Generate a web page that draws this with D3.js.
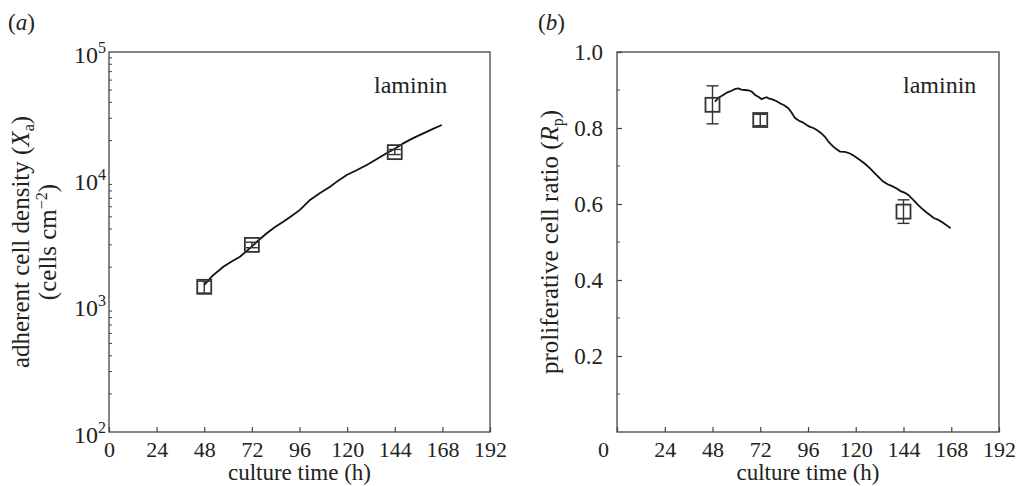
<!DOCTYPE html>
<html>
<head>
<meta charset="utf-8">
<script src="https://cdn.jsdelivr.net/npm/d3@7"></script>
<style>
  body { margin: 0; background: #fff; }
  text { font-family: "Liberation Serif", "Times New Roman", serif; fill: #222; }
</style>
</head>
<body>
<div id="chart"></div>
<script>
// culture time ticks (h)
var timeTicks = [0, 24, 48, 72, 96, 120, 144, 168, 192];

// panel (a): adherent cell density, model curve
var timeA = [48, 52, 57.6, 62, 66, 69, 71.9, 75.5, 79.5, 83.5, 87.8, 92, 96.2, 101.3, 106, 111.4,
  115.5, 119.8, 125, 129.9, 135, 139.9, 144, 148.3, 153, 158.4, 163, 167.7];
var densityA = [1449, 1700, 2018, 2230, 2421, 2650, 2904, 3280, 3704, 4130, 4573, 5080, 5665, 6790, 7650, 8650,
  9650, 10700, 11700, 12830, 14300, 15850, 17200, 19000, 20800, 22800, 24600, 26550];
// panel (a): measured points
var measTimeA = [48, 72, 144];
var measDensityA = [1400, 3000, 16200];
var measLowA = [1250, 2850, 15500];
var measHighA = [1550, 3150, 17000];

// panel (b): proliferative cell ratio, model curve
var timeB = [49.3, 51, 53.4, 55.5, 57.6, 59.5, 61, 62.5, 64.3, 66, 67.7, 69.4, 71, 72.7, 74, 75.2, 76.5, 77.8,
  80, 81.9, 84, 86.1, 87.8, 89.5, 91.5, 93.3, 95.3, 97, 98.7, 100.4, 102.5, 104.5, 106.6, 108.7, 110.4, 112.1,
  114.6, 117.1, 119.6, 122.1, 124.6, 127.2, 129, 131.5, 133.8, 136, 138.3, 140.6, 142.5, 144.5, 146.4, 148.9,
  151.4, 153.3, 155.3, 157.3, 159.2, 161.2, 163.2, 165.4, 167.7];
var ratioB = [0.869, 0.880, 0.887, 0.894, 0.898, 0.903, 0.904, 0.901, 0.900, 0.899, 0.896, 0.887, 0.882, 0.876,
  0.879, 0.881, 0.877, 0.876, 0.871, 0.865, 0.860, 0.852, 0.840, 0.826, 0.819, 0.815, 0.808, 0.803, 0.800,
  0.795, 0.787, 0.777, 0.762, 0.751, 0.744, 0.738, 0.737, 0.733, 0.725, 0.716, 0.706, 0.694, 0.684, 0.671,
  0.659, 0.652, 0.647, 0.641, 0.634, 0.630, 0.624, 0.611, 0.597, 0.588, 0.579, 0.571, 0.563, 0.559, 0.553,
  0.545, 0.536];
var measTimeB = [48, 72, 144];
var measRatioB = [0.861, 0.821, 0.580];
var measLowB = [0.811, 0.806, 0.549];
var measHighB = [0.911, 0.836, 0.611];

var ratioTicks = [0.2, 0.4, 0.6, 0.8, 1.0];
var ratioMinor = [0.1, 0.3, 0.5, 0.7, 0.9];

var svgWidth = 1017, svgHeight = 486;
var axisColor = "#444";

var svg = d3.select("#chart").append("svg")
  .attr("width", svgWidth)
  .attr("height", svgHeight);

var plotTop = 52, plotBottom = 432;

function drawFrame(g, x) {
  g.append("rect")
    .attr("x", x.range()[0]).attr("y", plotTop)
    .attr("width", x.range()[1] - x.range()[0]).attr("height", plotBottom - plotTop)
    .attr("fill", "none").attr("stroke", axisColor).attr("stroke-width", 1.3);
}

function drawXAxis(g, x, zeroShift) {
  var ax = g.append("g")
    .attr("transform", "translate(0," + plotBottom + ")")
    .call(d3.axisBottom(x).tickValues(timeTicks).tickSizeInner(-5).tickSizeOuter(0).tickPadding(9));
  ax.select(".domain").remove();
  ax.selectAll("line").attr("stroke", axisColor).attr("stroke-width", 1.2);
  ax.selectAll("text").attr("font-size", 22).attr("fill", "#222")
    .attr("font-family", "Liberation Serif, serif")
    .attr("dx", function(d) { return d === 0 ? zeroShift : 0; });
  g.append("text")
    .attr("x", (x.range()[0] + x.range()[1]) / 2)
    .attr("y", 480)
    .attr("text-anchor", "middle")
    .attr("font-size", 23)
    .text("culture time (h)");
}

function drawMarkers(g, x, y, ts, vs, lo, hi) {
  var pts = ts.map(function(t, i) { return { t: t, v: vs[i], lo: lo[i], hi: hi[i] }; });
  var m = g.append("g").attr("stroke", "#333").attr("stroke-width", 1.4).attr("fill", "none");
  m.selectAll(".err").data(pts).enter().append("line")
    .attr("x1", function(d) { return x(d.t); }).attr("x2", function(d) { return x(d.t); })
    .attr("y1", function(d) { return y(d.lo); }).attr("y2", function(d) { return y(d.hi); });
  m.selectAll(".capLo").data(pts).enter().append("line")
    .attr("x1", function(d) { return x(d.t) - 6; }).attr("x2", function(d) { return x(d.t) + 6; })
    .attr("y1", function(d) { return y(d.lo); }).attr("y2", function(d) { return y(d.lo); });
  m.selectAll(".capHi").data(pts).enter().append("line")
    .attr("x1", function(d) { return x(d.t) - 6; }).attr("x2", function(d) { return x(d.t) + 6; })
    .attr("y1", function(d) { return y(d.hi); }).attr("y2", function(d) { return y(d.hi); });
  m.selectAll("rect").data(pts).enter().append("rect")
    .attr("x", function(d) { return x(d.t) - 7; })
    .attr("y", function(d) { return y(d.v) - 7; })
    .attr("width", 14).attr("height", 14)
    .attr("stroke-width", 1.8);
}

// ---------- panel (a) ----------
var xA = d3.scaleLinear().domain([0, 192]).range([109, 490]);
var yA = d3.scaleLog().domain([100, 100000]).range([plotBottom, plotTop]);
var gA = svg.append("g");

drawFrame(gA, xA);
drawXAxis(gA, xA, 0);

// log minor ticks
var minorA = [];
[100, 1000, 10000].forEach(function(base) {
  for (var k = 2; k <= 9; k++) minorA.push(base * k);
});
gA.selectAll(".minor").data(minorA).enter().append("line")
  .attr("x1", 109).attr("x2", 112)
  .attr("y1", function(d) { return yA(d); }).attr("y2", function(d) { return yA(d); })
  .attr("stroke", axisColor).attr("stroke-width", 1);

var decades = [2, 3, 4, 5];
var decLabels = gA.selectAll(".dec").data(decades).enter().append("text")
  .attr("x", 106)
  .attr("y", function(d) { return yA(Math.pow(10, d)) + 11; })
  .attr("text-anchor", "end")
  .attr("font-size", 24);
decLabels.append("tspan").text("10");
decLabels.append("tspan").attr("dy", -10).attr("font-size", 16).text(function(d) { return d; });

var lineA = d3.line().x(function(d) { return xA(d[0]); }).y(function(d) { return yA(d[1]); });
gA.append("path")
  .datum(timeA.map(function(t, i) { return [t, densityA[i]]; }))
  .attr("d", lineA)
  .attr("fill", "none").attr("stroke", "#111").attr("stroke-width", 1.8);

drawMarkers(gA, xA, yA, measTimeA, measDensityA, measLowA, measHighA);

gA.append("text").attr("x", 374).attr("y", 93).attr("font-size", 24).text("laminin");

var titleA = gA.append("text")
  .attr("transform", "translate(29,242) rotate(-90)")
  .attr("text-anchor", "middle")
  .attr("font-size", 25);
titleA.append("tspan").text("adherent cell density (");
titleA.append("tspan").attr("font-style", "italic").text("X");
titleA.append("tspan").attr("font-size", 16).attr("dy", 5).text("a");
titleA.append("tspan").attr("dy", -5).text(")");

var titleA2 = gA.append("text")
  .attr("transform", "translate(56,242) rotate(-90)")
  .attr("text-anchor", "middle")
  .attr("font-size", 25);
titleA2.append("tspan").text("(cells cm");
titleA2.append("tspan").attr("font-size", 16).attr("dy", -9).text("\u22122");
titleA2.append("tspan").attr("dy", 9).text(")");

var labA = gA.append("text").attr("x", 8).attr("y", 30).attr("font-size", 23);
labA.append("tspan").text("(");
labA.append("tspan").attr("font-style", "italic").text("a");
labA.append("tspan").text(")");

// ---------- panel (b) ----------
var xB = d3.scaleLinear().domain([0, 192]).range([617, 999]);
var yB = d3.scaleLinear().domain([0, 1]).range([plotBottom, plotTop]);
var gB = svg.append("g");

drawFrame(gB, xB);
drawXAxis(gB, xB, -14);

var yAxB = gB.append("g")
  .attr("transform", "translate(617,0)")
  .call(d3.axisLeft(yB).tickValues(ratioTicks).tickFormat(d3.format(".1f"))
    .tickSizeInner(-5).tickSizeOuter(0).tickPadding(14));
yAxB.select(".domain").remove();
yAxB.selectAll("line").attr("stroke", axisColor).attr("stroke-width", 1.2);
yAxB.selectAll("text").attr("font-size", 23).attr("fill", "#222")
  .attr("font-family", "Liberation Serif, serif").attr("dy", "0.34em");

gB.selectAll(".minor").data(ratioMinor).enter().append("line")
  .attr("x1", 617).attr("x2", 620)
  .attr("y1", function(d) { return yB(d); }).attr("y2", function(d) { return yB(d); })
  .attr("stroke", axisColor).attr("stroke-width", 1);

var lineB = d3.line().x(function(d) { return xB(d[0]); }).y(function(d) { return yB(d[1]); });
gB.append("path")
  .datum(timeB.map(function(t, i) { return [t, ratioB[i]]; }))
  .attr("d", lineB)
  .attr("fill", "none").attr("stroke", "#111").attr("stroke-width", 1.8);

drawMarkers(gB, xB, yB, measTimeB, measRatioB, measLowB, measHighB);

gB.append("text").attr("x", 903).attr("y", 93).attr("font-size", 24).text("laminin");

var titleB = gB.append("text")
  .attr("transform", "translate(558,242) rotate(-90)")
  .attr("text-anchor", "middle")
  .attr("font-size", 25);
titleB.append("tspan").text("proliferative cell ratio (");
titleB.append("tspan").attr("font-style", "italic").text("R");
titleB.append("tspan").attr("font-size", 16).attr("dy", 5).text("p");
titleB.append("tspan").attr("dy", -5).text(")");

var labB = gB.append("text").attr("x", 538).attr("y", 30).attr("font-size", 23);
labB.append("tspan").text("(");
labB.append("tspan").attr("font-style", "italic").text("b");
labB.append("tspan").text(")");
</script>
</body>
</html>
